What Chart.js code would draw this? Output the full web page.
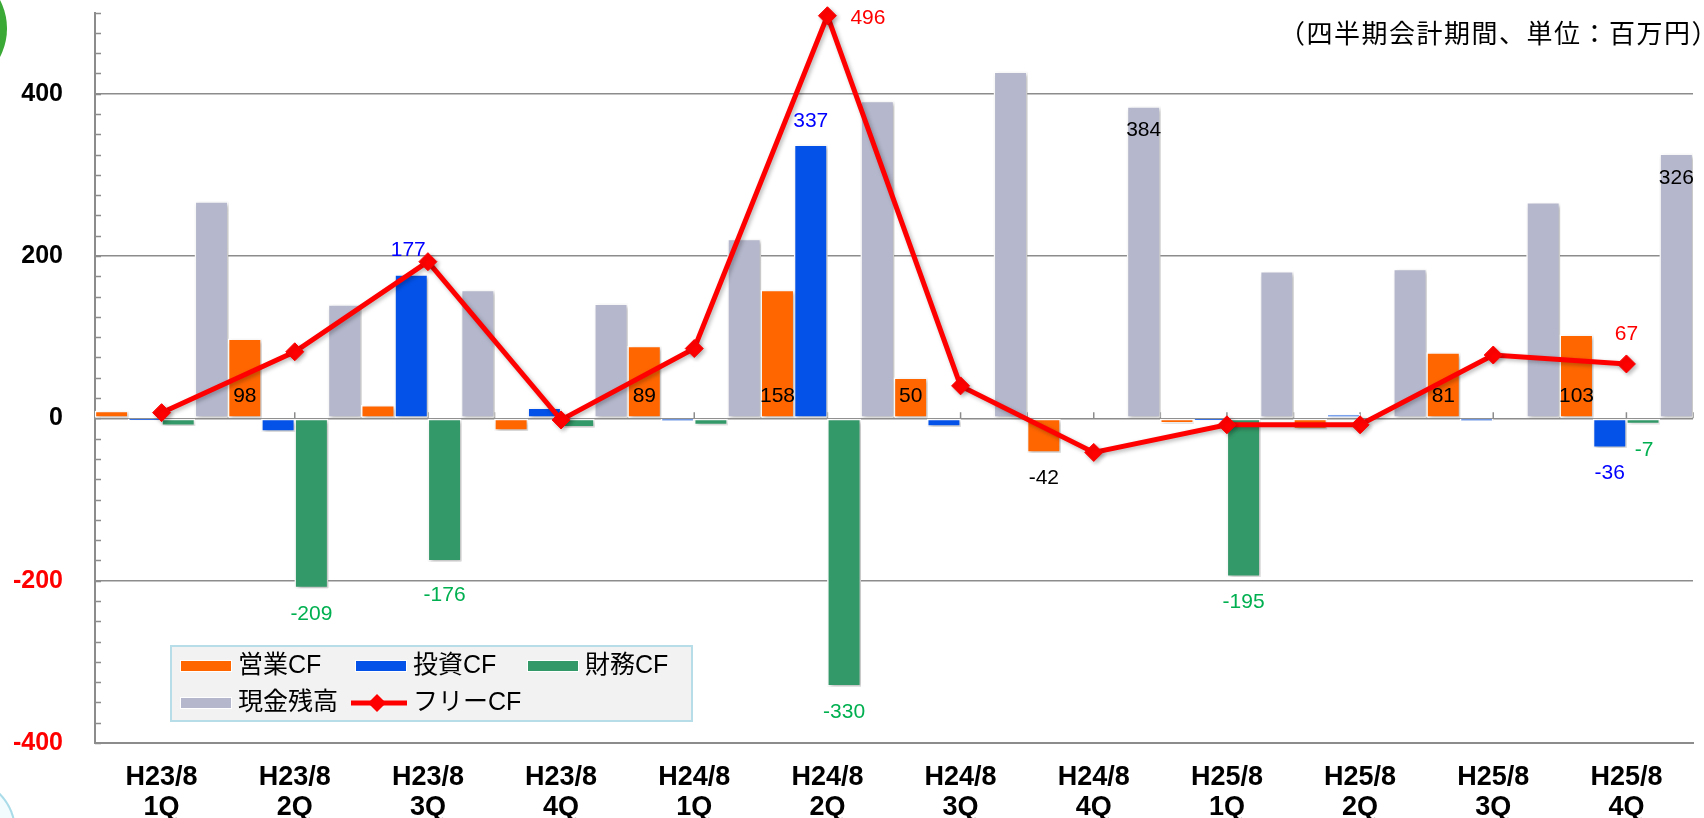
<!DOCTYPE html>
<html lang="ja">
<head>
<meta charset="utf-8">
<title>キャッシュフロー推移</title>
<script src="https://cdn.jsdelivr.net/npm/chart.js@4.4.1/dist/chart.umd.min.js"></script>
<style>
  html, body { margin: 0; padding: 0; background: #fff; overflow: hidden; }
  #wrap { position: relative; width: 1704px; height: 818px; }
  #unit {
    position: absolute; left: 1279px; top: 17px;
    font: 26px/30px 'Noto Sans CJK JP', sans-serif;
    letter-spacing: 1.5px; white-space: nowrap; color: #000;
  }
  .deco { position: absolute; border-radius: 50%; box-sizing: border-box; }
</style>
</head>
<body>
<div id="wrap">
  <canvas id="cf" width="1704" height="818"></canvas>
  <div id="unit">（四半期会計期間、単位：百万円）</div>
  <div class="deco" style="left:-116px;top:-33px;width:123px;height:123px;background:#3aa935;"></div>
  <div class="deco" style="left:-96px;top:776px;width:112px;height:112px;background:#f2fbfd;border:2px solid #a9dce8;"></div>
</div>
<script>
// 四半期キャッシュフロー（百万円）
const quarters = [
  ['H23/8', '1Q'], ['H23/8', '2Q'], ['H23/8', '3Q'], ['H23/8', '4Q'],
  ['H24/8', '1Q'], ['H24/8', '2Q'], ['H24/8', '3Q'], ['H24/8', '4Q'],
  ['H25/8', '1Q'], ['H25/8', '2Q'], ['H25/8', '3Q'], ['H25/8', '4Q']
];
const eigyoCF = [9, 98, 16, -15, 89, 158, 50, -42, -6, -13, 81, 103];
const toshiCF = [-2, -16, 177, 13, -3, 337, -10, 0, -2, 5, -3, -36];
const zaimuCF = [-9, -209, -176, -11, -8, -330, 0, 0, -195, 0, 0, -7];
const genkin  = [267, 140, 158, 141, 221, 391, 427, 384, 181, 184, 266, 326];
const freeCF  = [7, 82, 193, -2, 86, 496, 40, -42, -8, -8, 78, 67];

const yTickValues = [-400, -200, 0, 200, 400];
const yMin = -400, yMax = 500, yMinorStep = 25;

const FONT = "'Liberation Sans', Arial, 'Noto Sans CJK JP', sans-serif";
const GRID = '#8c8c8c';

// 表示するデータラベル（系列番号, 位置）
const shownLabels = [
  { s: 0, i: 1, at: 'base' }, { s: 0, i: 4, at: 'base' }, { s: 0, i: 5, at: 'base' },
  { s: 0, i: 6, at: 'base' }, { s: 0, i: 10, at: 'base' }, { s: 0, i: 11, at: 'base' },
  { s: 0, i: 7, at: 'below' },
  { s: 1, i: 2, at: 'above', dx: -3 }, { s: 1, i: 5, at: 'above' }, { s: 1, i: 11, at: 'below' },
  { s: 2, i: 1, at: 'below' }, { s: 2, i: 2, at: 'below', dy: 8 }, { s: 2, i: 5, at: 'below' },
  { s: 2, i: 8, at: 'below' }, { s: 2, i: 11, at: 'below', dx: 1 },
  { s: 3, i: 7, at: 'inside' }, { s: 3, i: 11, at: 'inside' },
  { s: 4, i: 5, at: 'right' }, { s: 4, i: 11, at: 'over' }
];
const labelColors = ['#000000', '#0000ff', '#00b050', '#000000', '#ff0000'];

// 軸の補助目盛りと影
const axisExtras = {
  id: 'axisExtras',
  beforeDatasetsDraw(chart) {
    const c = chart.ctx, y = chart.scales.y, x = chart.scales.x;
    const left = chart.chartArea.left;
    c.save();
    c.strokeStyle = GRID;
    c.lineWidth = 1.5;
    c.beginPath();
    for (let v = yMin; v <= yMax; v += yMinorStep) {
      const py = Math.round(y.getPixelForValue(v)) + 0.5;
      c.moveTo(left, py);
      c.lineTo(left + 6, py);
    }
    const zero = y.getPixelForValue(0);
    const half = (x.getPixelForValue(1) - x.getPixelForValue(0)) / 2;
    for (let i = 0; i < quarters.length; i++) {
      const px = x.getPixelForValue(i);
      [px, px + half].forEach(p => { c.moveTo(p, zero); c.lineTo(p, zero - 6); });
    }
    c.stroke();
    c.restore();
    c.save();
    c.shadowColor = 'rgba(0,0,0,0.28)';
    c.shadowBlur = 4;
    c.shadowOffsetX = 2;
    c.shadowOffsetY = 2;
  },
  afterDatasetsDraw(chart) {
    chart.ctx.restore();
  }
};

// データラベルと凡例
const labelsAndLegend = {
  id: 'labelsAndLegend',
  afterDraw(chart) {
    const c = chart.ctx;
    const zero = chart.scales.y.getPixelForValue(0);
    c.save();
    c.font = '21px ' + FONT;
    c.textBaseline = 'middle';
    shownLabels.forEach(l => {
      const el = chart.getDatasetMeta(l.s).data[l.i];
      const val = chart.data.datasets[l.s].data[l.i];
      const base = el.base !== undefined ? el.base : el.y;
      const top = Math.min(el.y, base), bottom = Math.max(el.y, base);
      let px = el.x, py = el.y, align = 'center';
      if (l.at === 'base') py = zero - 22;
      else if (l.at === 'above') py = top - 24;
      else if (l.at === 'below') py = bottom + 26;
      else if (l.at === 'inside') py = top + 24;
      else if (l.at === 'right') { px = el.x + 23; py = el.y + 2; align = 'left'; }
      else if (l.at === 'over') py = el.y - 30;
      c.textAlign = align;
      c.fillStyle = labelColors[l.s];
      c.fillText(String(val), px + (l.dx || 0), py + (l.dy || 0));
    });

    // 凡例
    const box = { x: 171, y: 646, w: 521, h: 75 };
    c.fillStyle = '#f2f2f2';
    c.fillRect(box.x, box.y, box.w, box.h);
    c.strokeStyle = '#b7dde8';
    c.lineWidth = 2;
    c.strokeRect(box.x, box.y, box.w, box.h);
    const cols = [181, 356, 528], rows = [666, 703];
    c.font = '25px ' + FONT;
    c.textAlign = 'left';
    chart.data.datasets.forEach((ds, k) => {
      const cx = cols[k % 3], ry = rows[Math.floor(k / 3)];
      if (ds.type === 'line') {
        c.strokeStyle = ds.borderColor;
        c.lineWidth = 5;
        c.beginPath();
        c.moveTo(cx - 5, ry);
        c.lineTo(cx + 51, ry);
        c.stroke();
        c.fillStyle = ds.borderColor;
        c.beginPath();
        c.moveTo(cx + 21 - 9, ry);
        c.lineTo(cx + 21, ry - 9);
        c.lineTo(cx + 21 + 9, ry);
        c.lineTo(cx + 21, ry + 9);
        c.closePath();
        c.fill();
      } else {
        c.fillStyle = ds.backgroundColor;
        c.fillRect(cx, ry - 5, 50, 10);
        c.strokeStyle = '#ffffff';
        c.lineWidth = 1;
        c.strokeRect(cx - 0.5, ry - 5.5, 51, 11);
      }
      c.fillStyle = '#000';
      c.fillText(ds.label, cx + 57, ry);
    });
    c.restore();
  }
};

const barStyle = {
  borderColor: '#ffffff',
  borderWidth: 1.5,
  borderSkipped: false,
  barPercentage: 1,
  categoryPercentage: 1,
  order: 1
};

new Chart(document.getElementById('cf'), {
  type: 'bar',
  data: {
    labels: quarters,
    datasets: [
      { label: '営業CF', data: eigyoCF, backgroundColor: '#ff6600', ...barStyle },
      { label: '投資CF', data: toshiCF, backgroundColor: '#0452e8', ...barStyle },
      { label: '財務CF', data: zaimuCF, backgroundColor: '#349968', ...barStyle },
      { label: '現金残高', data: genkin, backgroundColor: '#b5b7cc', ...barStyle },
      {
        label: 'フリーCF', type: 'line', data: freeCF,
        borderColor: '#ff0000', backgroundColor: '#ff0000',
        borderWidth: 5, tension: 0,
        pointStyle: 'rectRot', pointRadius: 9,
        pointBackgroundColor: '#ff0000', pointBorderColor: '#ff0000', pointBorderWidth: 1,
        clip: false, order: 0
      }
    ]
  },
  options: {
    responsive: false,
    devicePixelRatio: 1,
    animation: false,
    layout: { padding: { top: 12, right: 11, left: 0, bottom: 0 } },
    plugins: {
      legend: { display: false },
      tooltip: { enabled: false },
      title: { display: false }
    },
    scales: {
      x: {
        grid: { display: false, drawTicks: false },
        border: { display: true, color: GRID, width: 2 },
        ticks: {
          color: '#000',
          padding: 20,
          maxRotation: 0,
          autoSkip: false,
          font: { family: FONT, size: 27, weight: 'bold', lineHeight: 1.1 }
        },
        afterFit: s => { s.height = 75; }
      },
      y: {
        min: yMin,
        max: yMax,
        afterBuildTicks: s => { s.ticks = yTickValues.map(v => ({ value: v })); },
        // 目盛り線は透明にして、ラベルとの間隔だけに使う
        grid: { color: GRID, lineWidth: 1.6, drawTicks: true, tickLength: 32, tickColor: 'rgba(0,0,0,0)' },
        border: { display: true, color: GRID, width: 2 },
        ticks: {
          padding: 0,
          color: c => (c.tick && c.tick.value < 0 ? '#ff0000' : '#000000'),
          font: { family: FONT, size: 25, weight: 'bold', lineHeight: 1 },
          callback: v => String(v)
        },
        afterFit: s => { s.width = 95; }
      }
    }
  },
  plugins: [axisExtras, labelsAndLegend]
});
</script>
</body>
</html>
